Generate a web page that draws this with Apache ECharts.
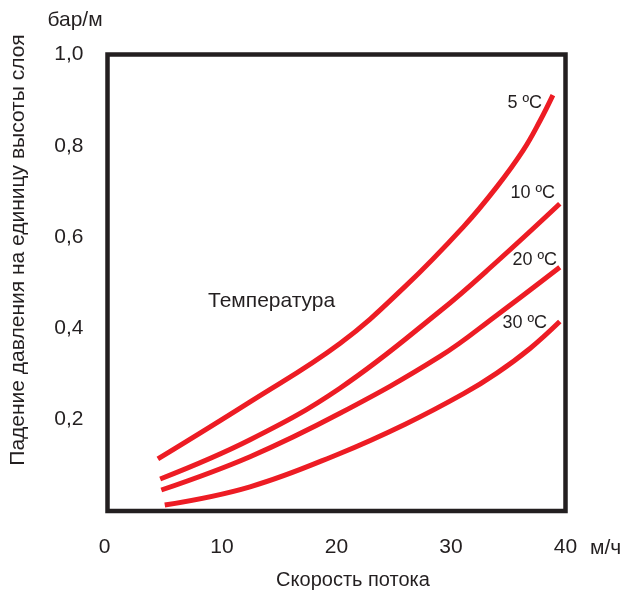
<!DOCTYPE html>
<html><head><meta charset="utf-8">
<script src="https://cdn.jsdelivr.net/npm/echarts@6/dist/echarts.min.js"></script>
<style>html,body{margin:0;padding:0;background:#fff}#c{width:624px;height:593px}</style>
</head><body><div id="c"></div>
<script>
const xTicks = [0, 10, 20, 30, 40];
const yTicks = [0, 0.2, 0.4, 0.6, 0.8, 1.0];
const seriesNames = ['5 ºC', '10 ºC', '20 ºC', '30 ºC'];
const flow5 = [4.4, 12.45, 20.3, 26.0, 31.1, 34.0, 36.3, 37.8, 38.9];
const drop5 = [0.114, 0.239, 0.367, 0.492, 0.623, 0.710, 0.790, 0.856, 0.911];
const flow10 = [4.6, 12.45, 20.3, 29.0, 34.0, 39.5];
const drop10 = [0.070, 0.156, 0.269, 0.437, 0.546, 0.673];
const flow20 = [4.7, 12.45, 20.3, 29.0, 34.0, 39.5];
const drop20 = [0.046, 0.119, 0.214, 0.338, 0.429, 0.534];
const flow30 = [5.0, 12.45, 20.3, 26.0, 31.1, 34.0, 36.9, 39.5];
const drop30 = [0.013, 0.053, 0.126, 0.190, 0.257, 0.302, 0.356, 0.415];
const yAxisTitle = 'Падение давления на единицу высоты слоя';
const yUnit = 'бар/м';
const xAxisTitle = 'Скорость потока';
const xUnit = 'м/ч';
const annotation = 'Температура';

const flows = [flow5, flow10, flow20, flow30];
const drops = [drop5, drop10, drop20, drop30];
const TXT = '#231f20', RED = '#ed1c24', FONT = '"Liberation Sans", Arial, sans-serif';

const chart = echarts.init(document.getElementById('c'));
const series = seriesNames.map((n, i) => ({
  name: n, type: 'line', smooth: 0.4, symbol: 'none', silent: true,
  lineStyle: { color: RED, width: 5, cap: 'butt' },
  data: flows[i].map((x, j) => [x, drops[i][j]])
}));
chart.setOption({
  animation: false,
  grid: { left: 107.5, top: 54.5, width: 458, height: 456.5, show: true, borderColor: TXT, borderWidth: 4.5, backgroundColor: '#fff' },
  xAxis: {
    type: 'value', min: xTicks[0], max: xTicks[xTicks.length - 1], interval: 10,
    axisLine: { show: false }, axisTick: { show: false }, splitLine: { show: false },
    axisLabel: { color: TXT, fontSize: 21, fontFamily: FONT, margin: 26,
      formatter: v => v === 0 ? '0 ' : String(v) }
  },
  yAxis: {
    type: 'value', min: yTicks[0], max: yTicks[yTicks.length - 1], interval: 0.2,
    axisLine: { show: false }, axisTick: { show: false }, splitLine: { show: false },
    axisLabel: { color: TXT, fontSize: 21, fontFamily: FONT, margin: 24,
      formatter: v => v === 0 ? '' : v.toFixed(1).replace('.', ',') }
  },
  series: series,
  graphic: [
    { type: 'text', x: 18, y: 250, rotation: Math.PI / 2,
      style: { text: yAxisTitle, fill: TXT, font: '21px ' + FONT, textAlign: 'center', textVerticalAlign: 'middle' } },
    { type: 'text', x: 75, y: 20, style: { text: yUnit, fill: TXT, font: '21px ' + FONT, textAlign: 'center', textVerticalAlign: 'middle' } },
    { type: 'text', x: 590, y: 548, style: { text: xUnit, fill: TXT, font: '21px ' + FONT, textAlign: 'left', textVerticalAlign: 'middle' } },
    { type: 'text', x: 353, y: 580, style: { text: xAxisTitle, fill: TXT, font: '20px ' + FONT, textAlign: 'center', textVerticalAlign: 'middle' } },
    { type: 'text', x: 208, y: 301, style: { text: annotation, fill: TXT, font: '21px ' + FONT, textAlign: 'left', textVerticalAlign: 'middle' } },
    { type: 'text', x: 542, y: 103, style: { text: seriesNames[0], fill: TXT, font: '18px ' + FONT, textAlign: 'right', textVerticalAlign: 'middle' } },
    { type: 'text', x: 555, y: 193, style: { text: seriesNames[1], fill: TXT, font: '18px ' + FONT, textAlign: 'right', textVerticalAlign: 'middle' } },
    { type: 'text', x: 557, y: 260, style: { text: seriesNames[2], fill: TXT, font: '18px ' + FONT, textAlign: 'right', textVerticalAlign: 'middle' } },
    { type: 'text', x: 547, y: 323, style: { text: seriesNames[3], fill: TXT, font: '18px ' + FONT, textAlign: 'right', textVerticalAlign: 'middle' } }
  ]
});
</script></body></html>
